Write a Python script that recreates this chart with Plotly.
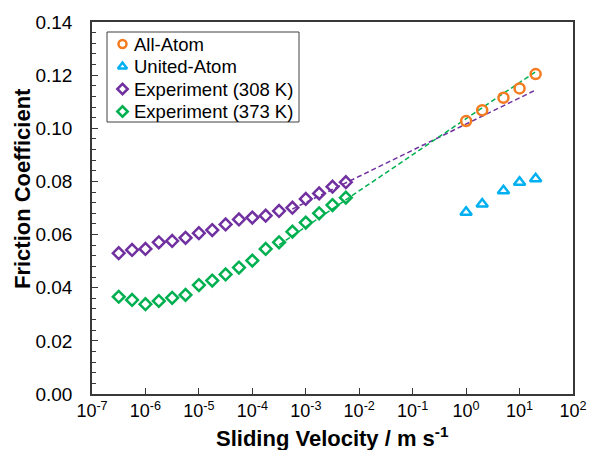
import plotly.graph_objects as go

# ---- data ----
exp_x = [10 ** (-6.5 + 0.25 * k) for k in range(18)]
exp_308 = [0.0530, 0.0542, 0.0546, 0.0571, 0.0576, 0.0588, 0.0605, 0.0617, 0.0638,
           0.0657, 0.0664, 0.0671, 0.0689, 0.0701, 0.0734, 0.0755, 0.0780, 0.0797]
exp_373 = [0.0366, 0.0354, 0.0338, 0.0350, 0.0362, 0.0373, 0.0410, 0.0427, 0.0450,
           0.0476, 0.0502, 0.0546, 0.0571, 0.0611, 0.0645, 0.0680, 0.0711, 0.0739]
sim_x = [1, 2, 5, 10, 20]
all_atom = [0.1027, 0.1068, 0.1115, 0.1150, 0.1204]
united_atom = [0.0684, 0.0715, 0.0765, 0.0797, 0.0810]

fit_308_x = [5.6e-4, 20]
fit_308_y = [0.0696, 0.1144]
fit_373_x = [3.16e-4, 20]
fit_373_y = [0.0561, 0.1213]

x_tickvals = [1e-7, 1e-6, 1e-5, 1e-4, 1e-3, 1e-2, 1e-1, 1e0, 1e1, 1e2]
x_ticktext = ["10<sup>-7</sup>", "10<sup>-6</sup>", "10<sup>-5</sup>", "10<sup>-4</sup>",
              "10<sup>-3</sup>", "10<sup>-2</sup>", "10<sup>-1</sup>", "10<sup>0</sup>",
              "10<sup>1</sup>", "10<sup>2</sup>"]

series_names = ["All-Atom", "United-Atom", "Experiment (308 K)", "Experiment (373 K)"]

ORANGE = "#F47B20"
BLUE = "#00B0F0"
PURPLE = "#7030A0"
GREEN = "#00B050"
FONT = "Liberation Sans, Arial, sans-serif"
AXC = "#383838"

series_colors = [ORANGE, BLUE, PURPLE, GREEN]
series_symbols = ["circle-open", "triangle-up-open", "diamond-open", "diamond-open"]
series_sizes = [10, 10, 9, 9]

fig = go.Figure()

fig.add_trace(go.Scatter(x=fit_308_x, y=fit_308_y, mode="lines", showlegend=False,
                         line=dict(color=PURPLE, width=1.5, dash="5px,3px")))
fig.add_trace(go.Scatter(x=fit_373_x, y=fit_373_y, mode="lines", showlegend=False,
                         line=dict(color=GREEN, width=1.5, dash="5px,3px")))

for xs, ys, i in [(sim_x, all_atom, 0), (sim_x, united_atom, 1),
                  (exp_x, exp_308, 2), (exp_x, exp_373, 3)]:
    fig.add_trace(go.Scatter(x=xs, y=ys, mode="markers", name=series_names[i], showlegend=False,
                             marker=dict(symbol=series_symbols[i], size=series_sizes[i],
                                         color=series_colors[i],
                                         line=dict(width=2.5, color=series_colors[i]))))

# ---- custom legend (layout positions in pixel units on an overlay axis) ----
leg_left, leg_right, leg_top, leg_bottom = 107, 299, 32, 122
leg_rows = [44, 66.5, 89, 111.5]
leg_sym_x = 122.5
leg_text_x = 132

for i, name in enumerate(series_names):
    fig.add_trace(go.Scatter(x=[leg_sym_x], y=[leg_rows[i]], xaxis="x2", yaxis="y2",
                             mode="markers", showlegend=False, hoverinfo="skip",
                             marker=dict(symbol=series_symbols[i], size=8,
                                         color=series_colors[i],
                                         line=dict(width=2.5, color=series_colors[i]))))

annotations = [
    dict(text="<b>Friction Coefficient</b>", textangle=-90, xref="paper", yref="paper",
         x=-0.1455, y=0.551, xanchor="center", yanchor="middle", showarrow=False,
         font=dict(size=22, family=FONT)),
    dict(text="<b>Sliding Velocity / m s<sup>-1</sup></b>", xref="paper", yref="paper",
         x=0.5, y=-0.116, xanchor="center", yanchor="middle", showarrow=False,
         font=dict(size=22, family=FONT)),
]
for i, name in enumerate(series_names):
    annotations.append(dict(text=name, xref="x2", yref="y2", x=leg_text_x, y=leg_rows[i],
                            xanchor="left", yanchor="middle", showarrow=False,
                            font=dict(size=18.5, family=FONT)))

fig.update_layout(
    width=592, height=450,
    margin=dict(l=92, r=19, t=22, b=56, autoexpand=False),
    paper_bgcolor="white", plot_bgcolor="white",
    font=dict(family=FONT, size=18, color="#000000"),
    showlegend=False,
    xaxis=dict(type="log", range=[-7, 2], tickvals=x_tickvals, ticktext=x_ticktext,
               ticks="inside", ticklen=6, tickcolor=AXC, showgrid=False, zeroline=False,
               showline=True, linecolor=AXC, linewidth=1.5, mirror=True, automargin=False,
               tickfont=dict(size=18)),
    yaxis=dict(range=[0, 0.14], dtick=0.02, tickformat=".2f", ticks="inside", ticklen=6,
               tickcolor=AXC, showgrid=False, zeroline=False, automargin=False,
               showline=True, linecolor=AXC, linewidth=1.5, mirror=True,
               tickfont=dict(size=19), ticklabelstandoff=14,
               minor=dict(dtick=0.004, ticks="inside", ticklen=4, tickcolor=AXC, showgrid=False)),
    xaxis2=dict(overlaying="x", range=[92, 573], visible=False, fixedrange=True, automargin=False),
    yaxis2=dict(overlaying="y", range=[394, 22], visible=False, fixedrange=True, automargin=False),
    shapes=[dict(type="rect", xref="x2", yref="y2", x0=leg_left, x1=leg_right,
                 y0=leg_top, y1=leg_bottom, line=dict(color="#404040", width=1),
                 fillcolor="white", layer="below")],
    annotations=annotations,
)

fig.write_html("out.html")
